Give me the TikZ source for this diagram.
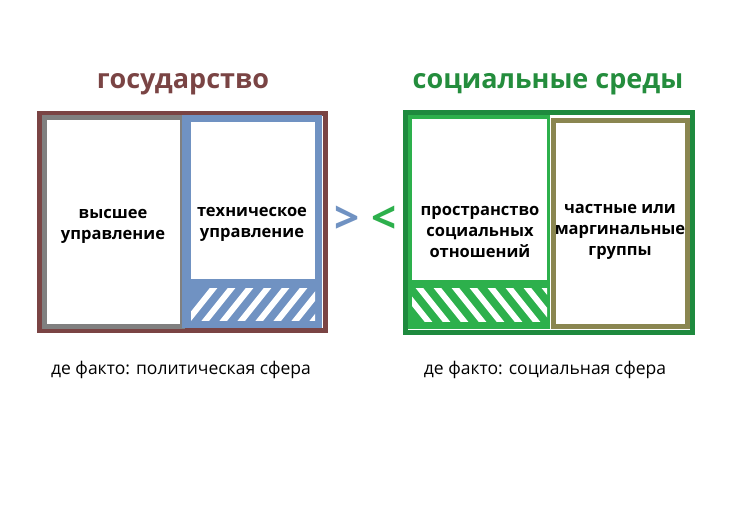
\documentclass[tikz,border=0pt]{standalone}
\usepackage{fontspec}
\setmainfont{Open Sans}
\definecolor{brn}{HTML}{7A4444}
\definecolor{gry}{HTML}{808080}
\definecolor{blu}{HTML}{7092C2}
\definecolor{dgr}{HTML}{1E8A3E}
\definecolor{lgr}{HTML}{2DB04C}
\definecolor{olv}{HTML}{8A8650}
\begin{document}
\begin{tikzpicture}[x=1pt,y=-1pt,
  lbl/.style={font=\bfseries\fontsize{16.5}{21}\selectfont,align=center,text=black},
  ttl/.style={font=\bfseries\fontsize{27}{30}\selectfont},
  captext/.style={font=\fontsize{17.5}{21}\selectfont}]
\useasboundingbox[fill=white] (0,0) rectangle (734,511);
% left
\draw[brn,line width=5] (39,113) rectangle (325,330);
\draw[gry,line width=5] (44,117) rectangle (182,326);
\fill[blu] (182,115) rectangle (322,328);
\fill[white] (191,122) rectangle (315,279);
\begin{scope}
\clip (191,288) rectangle (315,320);
\foreach \i in {0,...,8} \draw[white,line width=6] (180+\i*18,330) -- (180+\i*18+40,280);
\end{scope}
% right
\draw[dgr,line width=5] (405,112) rectangle (692,332);
\fill[lgr] (408,115) rectangle (550,329);
\fill[white] (412,119) rectangle (547,280);
\begin{scope}
\clip (412,288) rectangle (547,321);
\foreach \i in {0,...,9} \draw[white,line width=6] (395+\i*18,280) -- (395+\i*18+40,330);
\end{scope}
\draw[olv,line width=5] (553,120) rectangle (687,326);
% texts
\node[ttl,text=brn] (t1) at (183,84) {государство};
\node[ttl,text=lgr!80!black] (t2) at (548,84) {социальные среды};
\node[lbl] (a) at (113,226) {высшее\\управление};
\node[lbl] (b) at (252,224) {техническое\\управление};
\node[lbl] (c) at (480,232) {пространство\\социальных\\отношений};
\node[lbl] (d) at (620,232) {частные или\\маргинальные\\группы};
\node[font=\bfseries\fontsize{44}{44}\selectfont,text=blu] (g) at (347,220) {>};
\node[font=\bfseries\fontsize{44}{44}\selectfont,text=lgr] (l) at (384,220) {<};
\node[captext] (e) at (181,370) {де факто: политическая сфера};
\node[captext] (f) at (545,370) {де факто: социальная сфера};
\end{tikzpicture}
\end{document}
